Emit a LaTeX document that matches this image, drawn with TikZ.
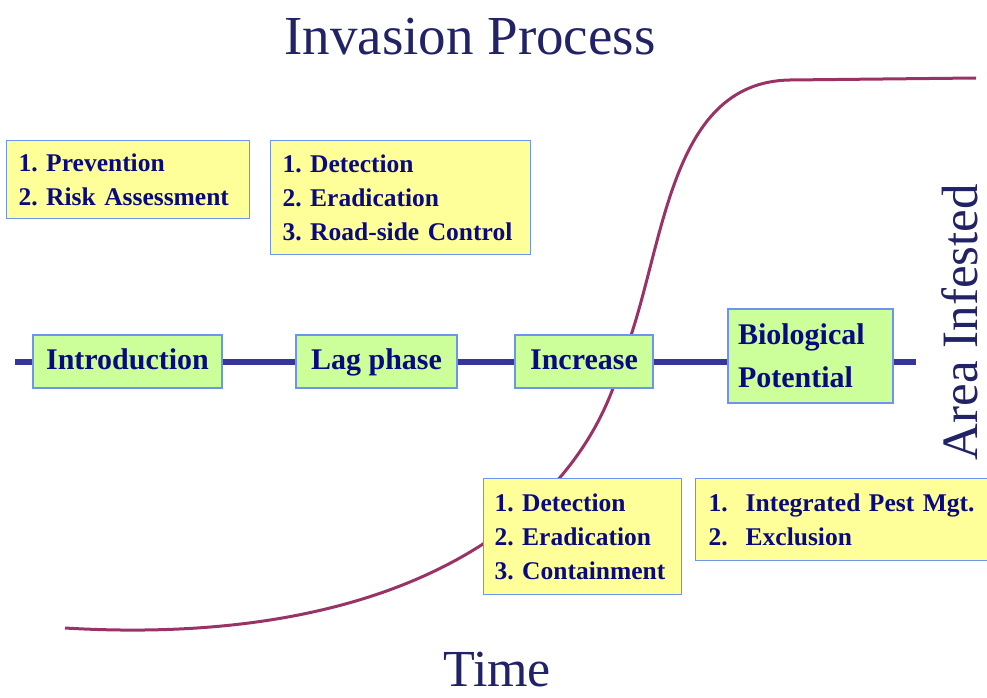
\documentclass[tikz,border=0pt]{standalone}
\usepackage{fontspec}
\setmainfont{Liberation Serif}
\definecolor{txt}{HTML}{0A0A80}
\definecolor{titlecol}{HTML}{222266}
\definecolor{boxedge}{HTML}{6F94F0}
\definecolor{yfill}{HTML}{FFFF99}
\definecolor{gfill}{HTML}{CCFF99}
\definecolor{linecol}{HTML}{35359A}
\definecolor{curvecol}{HTML}{993366}
\begin{document}
\frenchspacing
\hyphenpenalty=10000
\begin{tikzpicture}[x=1pt,y=-1pt,
  ybox/.style={draw=boxedge, line width=1.2pt, fill=yfill, anchor=north west, align=left,
    inner ysep=0pt, font=\bfseries\fontsize{25.5}{34}\selectfont, text=txt},
  gbox/.style={draw=boxedge, line width=1.2pt, fill=gfill, inner sep=0pt,
    font=\bfseries\fontsize{30}{43}\selectfont, text=txt},
  bigtext/.style={font=\fontsize{55}{60}\selectfont, text=titlecol, inner sep=0pt}]
\useasboundingbox (0,0) rectangle (987,698);
% S-curve
\coordinate (c0) at (65,628);
\coordinate (c1) at (622,360);
\coordinate (c2) at (790,80);
\coordinate (c3) at (976,78);
\draw[curvecol, line width=3pt] (c0) .. controls (400,648) and (580,520) .. (c1)
  .. controls (665,255) and (665,82) .. (c2) -- (c3);
% timeline
\coordinate (ls) at (15,362);
\coordinate (le) at (916,362);
\draw[linecol, line width=6pt] (ls) -- (le);
% green phase boxes
\node[gbox, minimum width=189pt, minimum height=53pt, text height=21pt, text depth=6pt] (intro) at (127.5,361.5) {Introduction};
\node[gbox, minimum width=161pt, minimum height=53pt, text height=21pt, text depth=6pt] (lag) at (376.5,361.5) {Lag phase};
\node[gbox, minimum width=138pt, minimum height=53pt, text height=21pt, text depth=6pt] (inc) at (584,361.5) {Increase};
\node[gbox, minimum width=165pt, minimum height=94pt, align=left, text width=145pt, inner xsep=10pt] (bio) at (810.5,356) {Biological\\Potential};
% yellow boxes
\node[ybox, minimum width=243pt, minimum height=78pt, text width=219pt, inner xsep=11pt] (y1) at (6,140)
  {1. Prevention\\2. Risk Assessment};
\node[ybox, minimum width=260pt, minimum height=114pt, text width=236pt, inner xsep=11pt] (y2) at (270,140)
  {1. Detection\\2. Eradication\\3. Road-side Control};
\node[ybox, minimum width=198pt, minimum height=116pt, text width=176pt, inner xsep=10pt] (y3) at (483,478)
  {1. Detection\\2. Eradication\\3. Containment};
\node[ybox, minimum width=300pt, minimum height=82pt, text width=274pt, inner xsep=13pt] (y4) at (695,478)
  {1.\hspace{18pt}Integrated Pest Mgt.\\2.\hspace{18pt}Exclusion};
% titles
\node[bigtext] (title) at (470,37) {Invasion Process};
\node[bigtext, font=\fontsize{52}{60}\selectfont] (time) at (497,670) {Time};
\node[bigtext, font=\fontsize{51}{60}\selectfont, rotate=90] (area) at (960,322) {Area Infested};
\end{tikzpicture}
\end{document}
